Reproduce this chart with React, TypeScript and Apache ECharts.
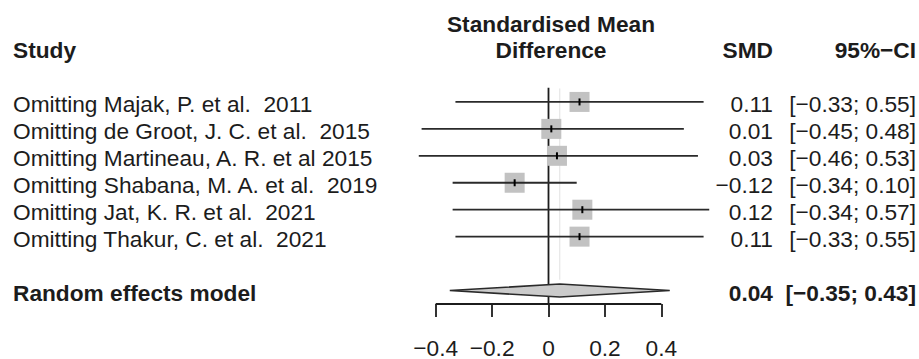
import React, { useEffect, useRef } from "react";
import * as echarts from "echarts";

const studies = [
  "Omitting Majak, P. et al.  2011",
  "Omitting de Groot, J. C. et al.  2015",
  "Omitting Martineau, A. R. et al 2015",
  "Omitting Shabana, M. A. et al.  2019",
  "Omitting Jat, K. R. et al.  2021",
  "Omitting Thakur, C. et al.  2021",
];
const smd = [0.11, 0.01, 0.03, -0.12, 0.12, 0.11];
const lower = [-0.33, -0.45, -0.46, -0.34, -0.34, -0.33];
const upper = [0.55, 0.48, 0.53, 0.1, 0.57, 0.55];
const pooledLabel = "Random effects model";
const pooled = [0.04, -0.35, 0.43];
const tickValues = [-0.4, -0.2, 0, 0.2, 0.4];

const FONT = '"Liberation Sans", Arial, Helvetica, sans-serif';
const INK = "#1c1c1c";
const FS = 22.7;

const fmt = (v: number) => (v < 0 ? "\u2212" : "") + Math.abs(v).toFixed(2);
const ciText = (l: number, u: number) => `[${fmt(l)}; ${fmt(u)}]`;

export default function App() {
  const ref = useRef<HTMLDivElement>(null);
  useEffect(() => {
    if (!ref.current) return;
    const chart = echarts.init(ref.current, null, { renderer: "svg" });

    const studyRows = studies.map((_, i) => i + 1);
    const pooledRow = studies.length + 2;
    const axisRow = pooledRow + 0.5;

    const tableRows: Array<[number, string, string, string, boolean]> = [
      [-1.96, "", "", "", true],
      [-1.01, "Study", "SMD", "95%\u2212CI", true],
      ...studies.map(
        (s, i) => [studyRows[i], s, fmt(smd[i]), ciText(lower[i], upper[i]), false] as [number, string, string, string, boolean]
      ),
      [pooledRow, pooledLabel, fmt(pooled[0]), ciText(pooled[1], pooled[2]), true],
    ];

    const txt = (text: string, x: number, y: number, align: string, bold: boolean) => ({
      type: "text",
      style: {
        text,
        x,
        y,
        align,
        verticalAlign: "middle",
        fontSize: FS,
        fontWeight: bold ? "bold" : "normal",
        fontFamily: FONT,
        fill: INK,
      },
    });

    const option: any = {
      animation: false,
      backgroundColor: "#ffffff",
      grid: { left: 379.3, right: 201.3, top: 21.1, bottom: 52.3 },
      xAxis: {
        type: "value",
        position: "bottom",
        min: -0.6,
        max: 0.6,
        axisLine: { show: false, onZero: false },
        splitLine: { show: false },
        axisTick: {
          show: true,
          customValues: tickValues,
          length: 13,
          lineStyle: { color: INK, width: 1.8 },
        },
        axisLabel: {
          show: true,
          customValues: tickValues,
          margin: 32,
          fontSize: FS,
          fontFamily: FONT,
          color: INK,
          formatter: (v: number) => (v < 0 ? "\u2212" + Math.abs(v) : String(v)),
        },
      },
      yAxis: {
        type: "value",
        min: -2,
        max: axisRow,
        inverse: true,
        show: false,
      },
      series: [
        {
          type: "line",
          data: [
            [pooled[0], 0.5],
            [pooled[0], pooledRow - 0.4],
          ],
          symbol: "none",
          lineStyle: { color: "#e2e2e2", width: 1 },
          z: 1,
        },
        {
          type: "line",
          data: [
            [0, 0.47],
            [0, axisRow],
          ],
          symbol: "none",
          lineStyle: { color: INK, width: 1.8 },
          z: 2,
        },
        {
          type: "line",
          data: [
            [tickValues[0], axisRow],
            [tickValues[tickValues.length - 1], axisRow],
          ],
          symbol: "none",
          lineStyle: { color: INK, width: 1.8 },
          z: 2,
        },
        {
          type: "scatter",
          data: smd.map((v, i) => [v, studyRows[i]]),
          symbol: "rect",
          symbolSize: 20,
          itemStyle: { color: "#c2c2c2", opacity: 1 },
          z: 3,
        },
        {
          type: "custom",
          data: smd.map((v, i) => [v, studyRows[i], lower[i], upper[i]]),
          z: 4,
          renderItem: (params: any, api: any) => {
            const est = api.value(0);
            const row = api.value(1);
            const p0 = api.coord([api.value(2), row]);
            const p1 = api.coord([api.value(3), row]);
            const pc = api.coord([est, row]);
            return {
              type: "group",
              children: [
                {
                  type: "line",
                  shape: { x1: p0[0], y1: p0[1], x2: p1[0], y2: p1[1] },
                  style: { stroke: "#2a2a2a", lineWidth: 1.8 },
                },
                {
                  type: "line",
                  shape: { x1: pc[0], y1: pc[1] - 3.5, x2: pc[0], y2: pc[1] + 3.5 },
                  style: { stroke: "#000", lineWidth: 2 },
                },
              ],
            };
          },
        },
        {
          type: "custom",
          data: [[pooled[0], pooledRow, pooled[1], pooled[2]]],
          z: 4,
          renderItem: (params: any, api: any) => {
            const row = api.value(1);
            const est = api.value(0);
            const l = api.coord([api.value(2), row]);
            const u = api.coord([api.value(3), row]);
            const c = api.coord([est, row]);
            const h = 6.5;
            return {
              type: "polygon",
              shape: {
                points: [
                  [l[0], l[1]],
                  [c[0], c[1] - h],
                  [u[0], u[1]],
                  [c[0], c[1] + h],
                ],
              },
              style: { fill: "#cbcbcb", stroke: "#2a2a2a", lineWidth: 1.6 },
            };
          },
        },
        {
          type: "custom",
          data: tableRows.map((r, i) => [0, r[0], i]),
          z: 5,
          renderItem: (params: any, api: any) => {
            const r = tableRows[params.dataIndex];
            const y = api.coord([0, api.value(1)])[1] + 2;
            const cx = api.coord([0, 0])[0] + 2.5;
            const children: any[] = [];
            if (params.dataIndex === 0) children.push(txt("Standardised Mean", cx, y, "center", true));
            else if (params.dataIndex === 1) children.push(txt("Difference", cx, y, "center", true));
            if (r[1]) children.push(txt(r[1], 13, y, "left", r[4]));
            if (r[2]) children.push(txt(r[2], 773, y, "right", r[4]));
            if (r[3]) children.push(txt(r[3], 916, y, "right", r[4]));
            return { type: "group", children };
          },
        },
      ],
    };
    chart.setOption(option);
    return () => chart.dispose();
  }, []);
  return (
    <div
      ref={ref}
      style={{ position: "fixed", left: 0, top: 0, width: 919, height: 359, background: "#fff" }}
    />
  );
}
